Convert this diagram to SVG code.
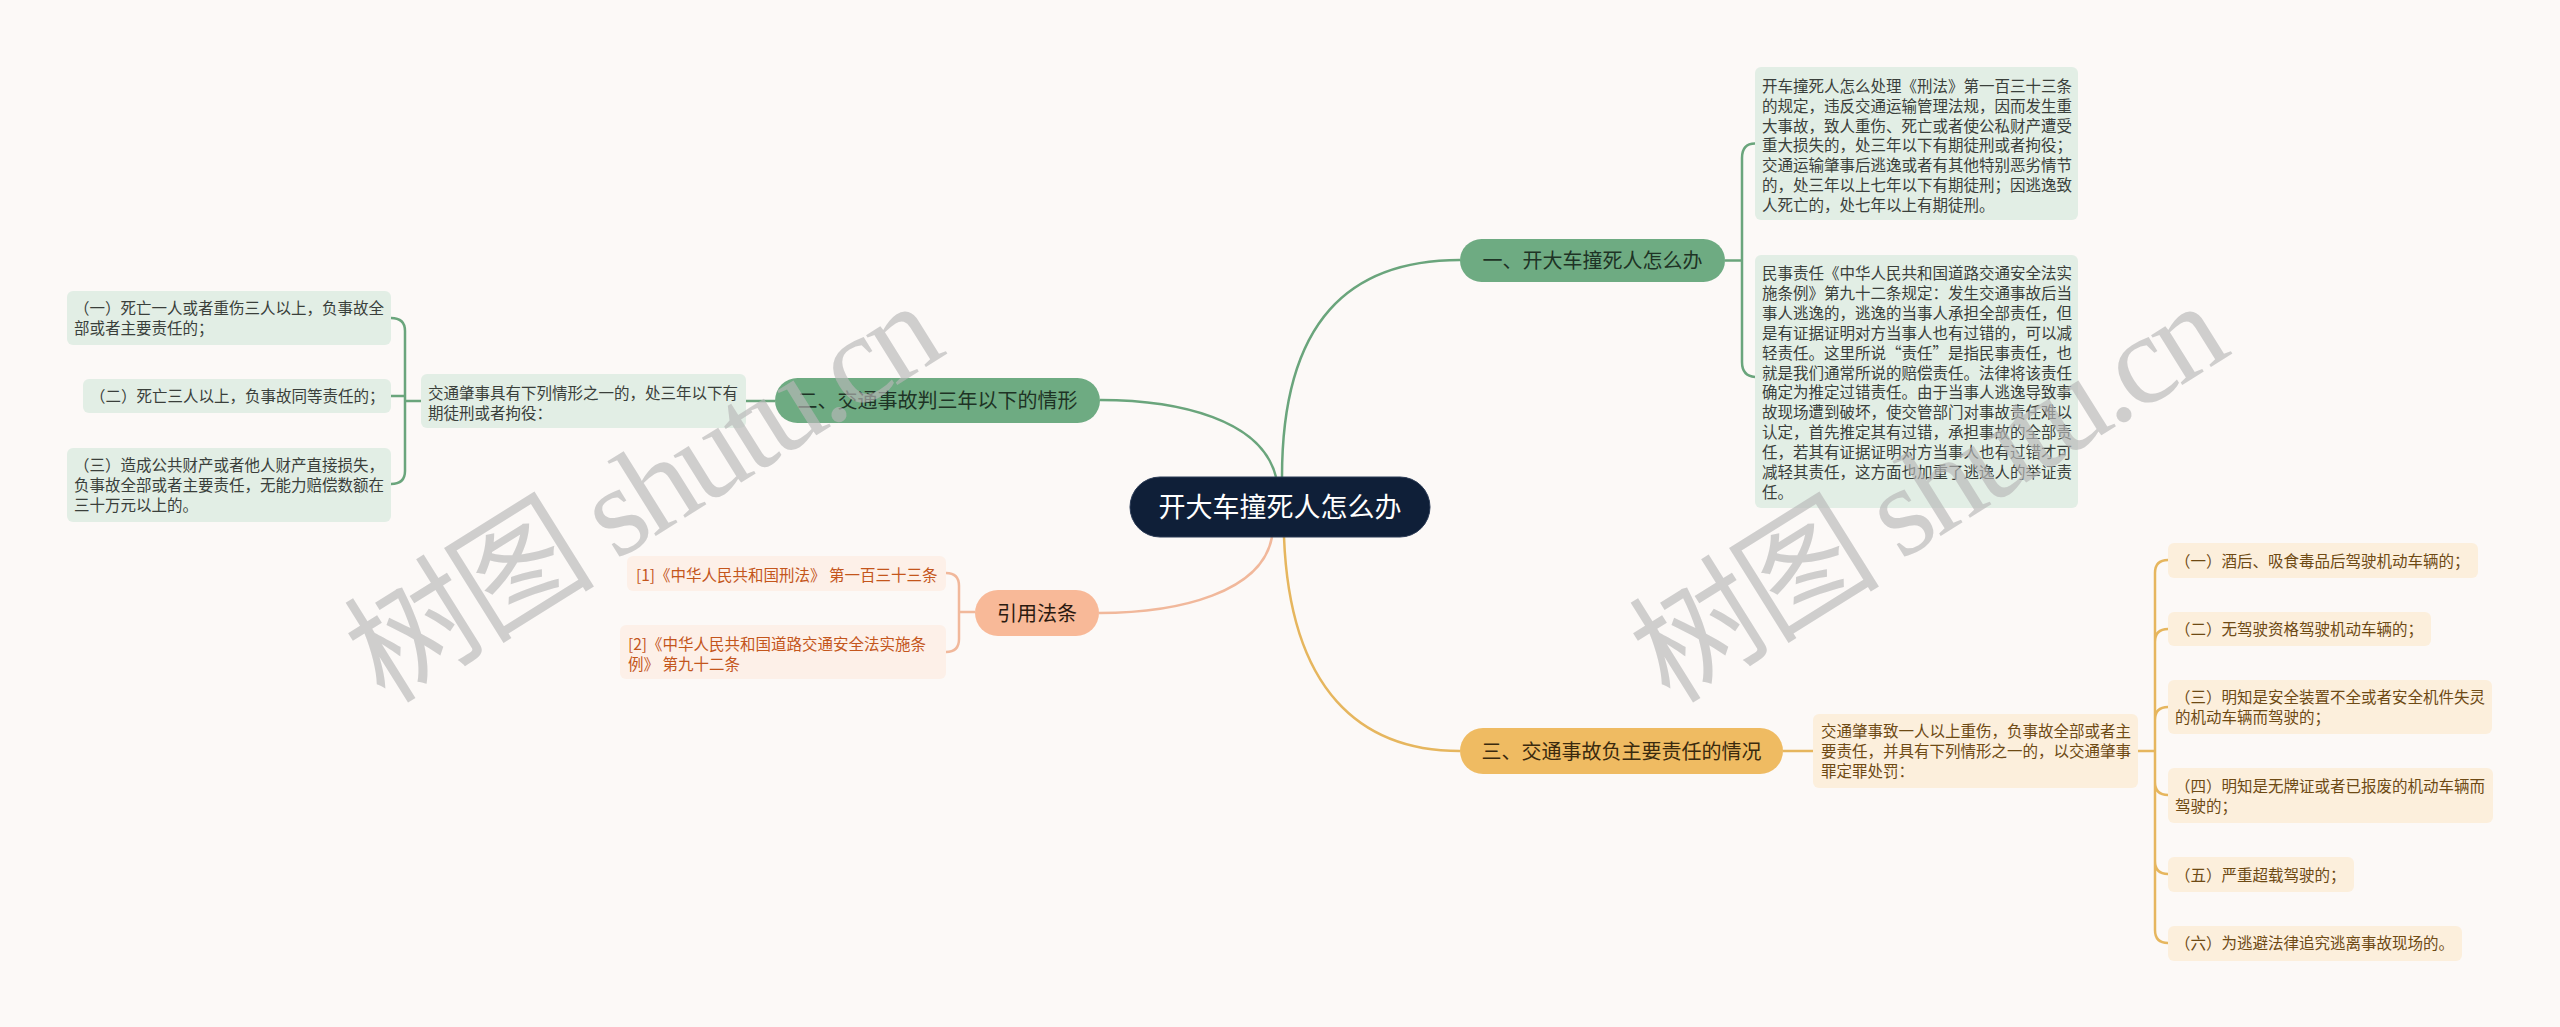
<svg xmlns="http://www.w3.org/2000/svg" width="2560" height="1027" viewBox="0 0 2560 1027">
<style>
text{font-family:"Noto Sans CJK SC","Noto Sans",sans-serif}
.t{font-size:15.5px}
.g{fill:#e2eee5}
.gt{fill:#3a3f3b}
.y{fill:#fcefdc}
.yt{fill:#6e4a14}
.o{fill:#fdf0e8}
.ot{fill:#c4561c}
.br{font-size:20px;text-anchor:middle}
.cg{fill:none;stroke:#6aa57c;stroke-width:2.5}
.cy{fill:none;stroke:#e6b65e;stroke-width:2.5}
.co{fill:none;stroke:#f1b89b;stroke-width:2.5}
.wm{font-family:"Liberation Serif","Noto Sans CJK SC",serif;font-size:128px;fill:#b8b8b8;opacity:0.65}
</style>
<rect x="0" y="0" width="2560" height="1027" fill="#fcf9f7"/>
<g id="connectors">
<path class="cg" d="M1282,477 C1282,320 1350,260 1460,260"/>
<path class="cg" d="M1276,477 C1262,420 1180,400 1100,400"/>
<path class="co" d="M1272,537 C1262,592 1180,613 1099,613"/>
<path class="cy" d="M1284,537 C1290,690 1360,751 1460,751"/>
<path class="cg" d="M1725,260.5 H1742 M1742,260.5 V158 Q1742,143.5 1755,143.5 M1742,260.5 V362 Q1742,376 1755,377"/>
<path class="cg" d="M775,401 H746 M421,401 H405 M405,401 V331 Q405,318 391,318 M405,401 V471 Q405,484 391,484 M405,396 H391"/>
<path class="co" d="M975,612 H959 M959,612 V586 Q959,573 946,573 M959,612 V639 Q959,652 946,652"/>
<path class="cy" d="M1783,751 H1813 M2138,751 H2155 M2155,751 V573 Q2155,560 2168,560 M2155,751 V642 Q2155,629 2168,629 M2155,751 V720 Q2155,707 2168,707 M2155,751 V782 Q2155,795 2168,795 M2155,751 V861 Q2155,874 2168,874 M2155,751 V930 Q2155,943 2168,943"/>
</g>
<g id="center">
<rect x="1130" y="477" width="300" height="60" rx="30" fill="#0f1f38" stroke="#2a3a55" stroke-width="1"/>
<text x="1280" y="517" font-size="27" fill="#ffffff" text-anchor="middle">开大车撞死人怎么办</text>
</g>
<g id="branch1">
<rect x="1460" y="239" width="265" height="43" rx="21.5" fill="#6eab82"/>
<text class="br" x="1592.5" y="268" fill="#1e3325">一、开大车撞死人怎么办</text>
</g>
<g id="b1-text1">
<rect class="g" x="1755" y="67" width="323" height="153" rx="6"/>
<text class="t gt" x="1762"><tspan x="1762" y="92">开车撞死人怎么处理《刑法》第一百三十三条</tspan><tspan x="1762" y="111.8">的规定，违反交通运输管理法规，因而发生重</tspan><tspan x="1762" y="131.6">大事故，致人重伤、死亡或者使公私财产遭受</tspan><tspan x="1762" y="151.4">重大损失的，处三年以下有期徒刑或者拘役；</tspan><tspan x="1762" y="171.2">交通运输肇事后逃逸或者有其他特别恶劣情节</tspan><tspan x="1762" y="191">的，处三年以上七年以下有期徒刑；因逃逸致</tspan><tspan x="1762" y="210.8">人死亡的，处七年以上有期徒刑。</tspan></text>
</g>
<g id="b1-text2">
<rect class="g" x="1755" y="255" width="323" height="253" rx="6"/>
<text class="t gt"><tspan x="1762" y="279">民事责任《中华人民共和国道路交通安全法实</tspan><tspan x="1762" y="298.9">施条例》第九十二条规定：发生交通事故后当</tspan><tspan x="1762" y="318.8">事人逃逸的，逃逸的当事人承担全部责任，但</tspan><tspan x="1762" y="338.7">是有证据证明对方当事人也有过错的，可以减</tspan><tspan x="1762" y="358.6">轻责任。这里所说“责任”是指民事责任，也</tspan><tspan x="1762" y="378.5">就是我们通常所说的赔偿责任。法律将该责任</tspan><tspan x="1762" y="398.4">确定为推定过错责任。由于当事人逃逸导致事</tspan><tspan x="1762" y="418.3">故现场遭到破坏，使交管部门对事故责任难以</tspan><tspan x="1762" y="438.2">认定，首先推定其有过错，承担事故的全部责</tspan><tspan x="1762" y="458.1">任，若其有证据证明对方当事人也有过错才可</tspan><tspan x="1762" y="478">减轻其责任，这方面也加重了逃逸人的举证责</tspan><tspan x="1762" y="497.9">任。</tspan></text>
</g>
<g id="branch2">
<rect x="775" y="378" width="325" height="45" rx="22.5" fill="#6eab82"/>
<text class="br" x="937.5" y="408" fill="#1e3325">二、交通事故判三年以下的情形</text>
</g>
<g id="b2-text">
<rect class="g" x="421" y="374" width="325" height="54" rx="6"/>
<text class="t gt"><tspan x="428" y="399">交通肇事具有下列情形之一的，处三年以下有</tspan><tspan x="428" y="419">期徒刑或者拘役：</tspan></text>
</g>
<g id="b2-item1">
<rect class="g" x="67" y="291" width="324" height="54" rx="6"/>
<text class="t gt"><tspan x="74" y="314">（一）死亡一人或者重伤三人以上，负事故全</tspan><tspan x="74" y="334">部或者主要责任的；</tspan></text>
</g>
<g id="b2-item2">
<rect class="g" x="83" y="379" width="308" height="34" rx="6"/>
<text class="t gt" x="90" y="402">（二）死亡三人以上，负事故同等责任的；</text>
</g>
<g id="b2-item3">
<rect class="g" x="67" y="448" width="324" height="74" rx="6"/>
<text class="t gt"><tspan x="74" y="471">（三）造成公共财产或者他人财产直接损失，</tspan><tspan x="74" y="491">负事故全部或者主要责任，无能力赔偿数额在</tspan><tspan x="74" y="511">三十万元以上的。</tspan></text>
</g>
<g id="cite">
<rect x="975" y="590" width="124" height="46" rx="23" fill="#f8b998"/>
<text class="br" x="1037" y="620.5" fill="#2b1a10">引用法条</text>
</g>
<g id="cite1">
<rect class="o" x="627" y="556" width="319" height="35" rx="6"/>
<text class="t ot" x="636" y="580.5">[1]《中华人民共和国刑法》 第一百三十三条</text>
</g>
<g id="cite2">
<rect class="o" x="620" y="625" width="326" height="54" rx="6"/>
<text class="t ot"><tspan x="628" y="650">[2]《中华人民共和国道路交通安全法实施条</tspan><tspan x="628" y="669.5">例》 第九十二条</tspan></text>
</g>
<g id="branch3">
<rect x="1460" y="728" width="323" height="46" rx="23" fill="#efbb62"/>
<text class="br" x="1621.5" y="758.5" fill="#3a2a0e">三、交通事故负主要责任的情况</text>
</g>
<g id="b3-text">
<rect class="y" x="1813" y="714" width="325" height="74" rx="6"/>
<text class="t yt"><tspan x="1821" y="737">交通肇事致一人以上重伤，负事故全部或者主</tspan><tspan x="1821" y="757">要责任，并具有下列情形之一的，以交通肇事</tspan><tspan x="1821" y="777">罪定罪处罚：</tspan></text>
</g>
<g id="b3-item1">
<rect class="y" x="2168" y="543" width="310" height="35" rx="6"/>
<text class="t yt" x="2175" y="566.5">（一）酒后、吸食毒品后驾驶机动车辆的；</text>
</g>
<g id="b3-item2">
<rect class="y" x="2168" y="612" width="263" height="34" rx="6"/>
<text class="t yt" x="2175" y="635">（二）无驾驶资格驾驶机动车辆的；</text>
</g>
<g id="b3-item3">
<rect class="y" x="2168" y="680" width="324" height="54" rx="6"/>
<text class="t yt"><tspan x="2175" y="703">（三）明知是安全装置不全或者安全机件失灵</tspan><tspan x="2175" y="723">的机动车辆而驾驶的；</tspan></text>
</g>
<g id="b3-item4">
<rect class="y" x="2168" y="768" width="325" height="55" rx="6"/>
<text class="t yt"><tspan x="2175" y="791.5">（四）明知是无牌证或者已报废的机动车辆而</tspan><tspan x="2175" y="811.5">驾驶的；</tspan></text>
</g>
<g id="b3-item5">
<rect class="y" x="2168" y="857" width="186" height="35" rx="6"/>
<text class="t yt" x="2175" y="880.5">（五）严重超载驾驶的；</text>
</g>
<g id="b3-item6">
<rect class="y" x="2168" y="926" width="294" height="35" rx="6"/>
<text class="t yt" x="2175" y="949">（六）为逃避法律追究逃离事故现场的。</text>
</g>
<g id="watermark">
<text class="wm" transform="translate(385,705) rotate(-32)" textLength="665" lengthAdjust="spacing">树图 shutu.cn</text>
<text class="wm" transform="translate(1670,705) rotate(-32)" textLength="665" lengthAdjust="spacing">树图 shutu.cn</text>
</g>
</svg>
